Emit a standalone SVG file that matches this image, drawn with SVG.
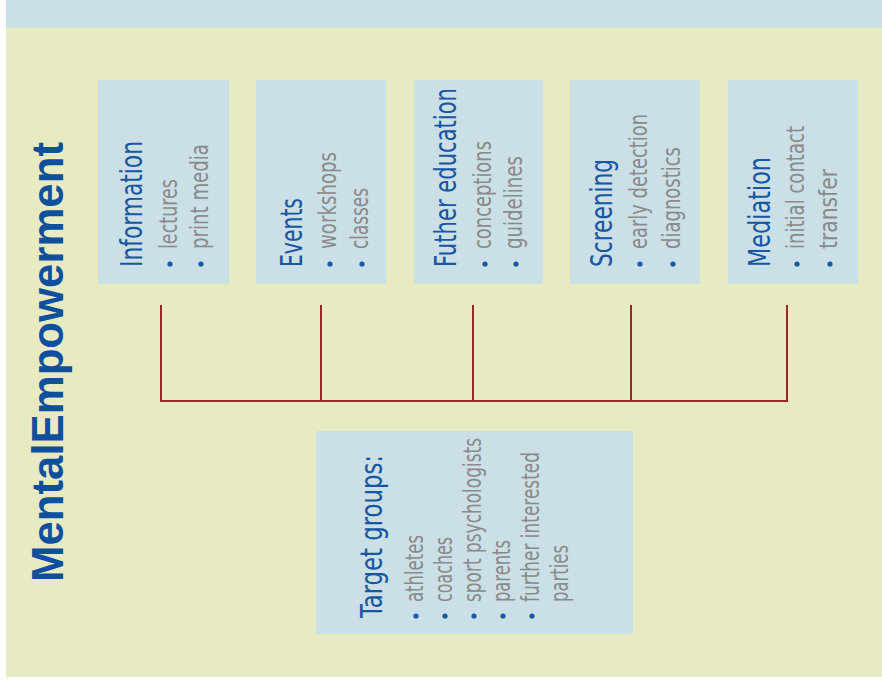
<svg xmlns="http://www.w3.org/2000/svg" width="882" height="681" viewBox="0 0 882 681">
  <style>
    .panel { fill: #E8EBC1; }
    .band { fill: #CADFE6; }
    .box { fill: #CADFE6; }
    .main { font-family: "Liberation Sans", Arial, sans-serif; font-weight: bold; font-size: 44px; fill: #0E509C; }
    .ttl { font-family: "Liberation Sans Narrow", "Arial Narrow", "DejaVu Sans Condensed", sans-serif; font-size: 30px; fill: #1656A2; }
    .item { font-family: "Liberation Sans Narrow", "Arial Narrow", "DejaVu Sans Condensed", sans-serif; font-size: 24px; fill: #8A8A8A; }
    .dot { fill: #1656A2; }
    .link { stroke: #962A2A; stroke-width: 2; fill: none; stroke-linecap: square; }
  </style>

  <!-- page background -->
  <rect x="0" y="0" width="882" height="681" fill="#FFFFFF"/>
  <rect class="panel" x="6" y="28" width="876" height="649"/>
  <rect class="band" x="6" y="0" width="876" height="28"/>

  <!-- heading -->
  <g id="title">
    <text class="main" transform="translate(63,582) rotate(-90)" textLength="440" lengthAdjust="spacingAndGlyphs">MentalEmpowerment</text>
  </g>

  <!-- service nodes -->
  <g id="information">
    <rect class="box" x="98" y="80" width="131" height="204"/>
    <text class="ttl" transform="translate(142,267) rotate(-90)" textLength="126" lengthAdjust="spacingAndGlyphs">Information</text>
    <circle class="dot" cx="170" cy="264" r="2.6"/>
    <text class="item" transform="translate(177,249) rotate(-90)" textLength="70" lengthAdjust="spacingAndGlyphs">lectures</text>
    <circle class="dot" cx="201" cy="264" r="2.6"/>
    <text class="item" transform="translate(208,249) rotate(-90)" textLength="105" lengthAdjust="spacingAndGlyphs">print media</text>
  </g>

  <g id="events">
    <rect class="box" x="256" y="80" width="130" height="204"/>
    <text class="ttl" transform="translate(302,267) rotate(-90)" textLength="69" lengthAdjust="spacingAndGlyphs">Events</text>
    <circle class="dot" cx="330" cy="264" r="2.6"/>
    <text class="item" transform="translate(336,249) rotate(-90)" textLength="97" lengthAdjust="spacingAndGlyphs">workshops</text>
    <circle class="dot" cx="362" cy="264" r="2.6"/>
    <text class="item" transform="translate(368,249) rotate(-90)" textLength="61" lengthAdjust="spacingAndGlyphs">classes</text>
  </g>

  <g id="education">
    <rect class="box" x="414" y="80" width="129" height="204"/>
    <text class="ttl" transform="translate(456,267) rotate(-90)" textLength="179" lengthAdjust="spacingAndGlyphs">Futher education</text>
    <circle class="dot" cx="485" cy="264" r="2.6"/>
    <text class="item" transform="translate(491,249) rotate(-90)" textLength="108" lengthAdjust="spacingAndGlyphs">conceptions</text>
    <circle class="dot" cx="516" cy="264" r="2.6"/>
    <text class="item" transform="translate(522,249) rotate(-90)" textLength="93" lengthAdjust="spacingAndGlyphs">guidelines</text>
  </g>

  <g id="screening">
    <rect class="box" x="570" y="80" width="130" height="204"/>
    <text class="ttl" transform="translate(612,267) rotate(-90)" textLength="108" lengthAdjust="spacingAndGlyphs">Screening</text>
    <circle class="dot" cx="640" cy="264" r="2.6"/>
    <text class="item" transform="translate(647,249) rotate(-90)" textLength="135" lengthAdjust="spacingAndGlyphs">early detection</text>
    <circle class="dot" cx="673" cy="264" r="2.6"/>
    <text class="item" transform="translate(680,249) rotate(-90)" textLength="102" lengthAdjust="spacingAndGlyphs">diagnostics</text>
  </g>

  <g id="mediation">
    <rect class="box" x="728" y="80" width="130" height="204"/>
    <text class="ttl" transform="translate(770,267) rotate(-90)" textLength="110" lengthAdjust="spacingAndGlyphs">Mediation</text>
    <circle class="dot" cx="797" cy="264" r="2.6"/>
    <text class="item" transform="translate(804,249) rotate(-90)" textLength="123" lengthAdjust="spacingAndGlyphs">initial contact</text>
    <circle class="dot" cx="830" cy="264" r="2.6"/>
    <text class="item" transform="translate(837,249) rotate(-90)" textLength="80" lengthAdjust="spacingAndGlyphs">transfer</text>
  </g>

  <!-- audience node -->
  <g id="target-groups">
    <rect class="box" x="316" y="431" width="317" height="203"/>
    <text class="ttl" transform="translate(382,618) rotate(-90)" textLength="163" lengthAdjust="spacingAndGlyphs">Target groups:</text>
    <circle class="dot" cx="416" cy="616" r="2.6"/>
    <text class="item" transform="translate(423,602) rotate(-90)" textLength="67" lengthAdjust="spacingAndGlyphs">athletes</text>
    <circle class="dot" cx="445" cy="616" r="2.6"/>
    <text class="item" transform="translate(452,602) rotate(-90)" textLength="65" lengthAdjust="spacingAndGlyphs">coaches</text>
    <circle class="dot" cx="474" cy="616" r="2.6"/>
    <text class="item" transform="translate(481,602) rotate(-90)" textLength="164" lengthAdjust="spacingAndGlyphs">sport psychologists</text>
    <circle class="dot" cx="503" cy="616" r="2.6"/>
    <text class="item" transform="translate(510,602) rotate(-90)" textLength="62" lengthAdjust="spacingAndGlyphs">parents</text>
    <circle class="dot" cx="532" cy="616" r="2.6"/>
    <text class="item" transform="translate(539,602) rotate(-90)" textLength="150" lengthAdjust="spacingAndGlyphs">further interested</text>
    <text class="item" transform="translate(568,602) rotate(-90)" textLength="57" lengthAdjust="spacingAndGlyphs">parties</text>
  </g>

  <!-- bracket joining the services -->
  <g id="connectors">
    <path class="link" d="M161,306 V401 M321,306 V401 M473,306 V401 M631,306 V401 M787,306 V401 M161,401 H787"/>
  </g>
</svg>
